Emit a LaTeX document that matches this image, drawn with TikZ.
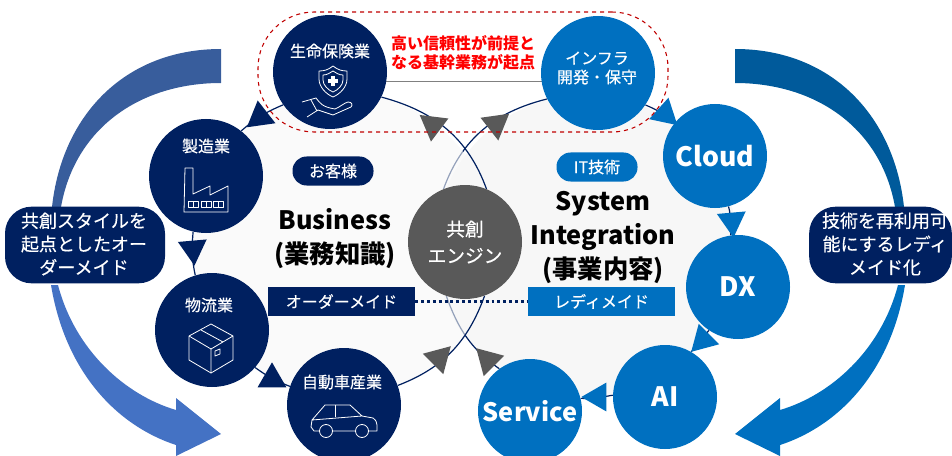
\documentclass[tikz,border=0pt]{standalone}
\usepackage{fontspec}
\setmainfont{Noto Sans CJK JP}[UprightFeatures={FakeBold=0.35},BoldFeatures={FakeBold=0}]
\usetikzlibrary{shapes.geometric,backgrounds}
\definecolor{navy}{HTML}{002060}
\definecolor{blue}{HTML}{0070C0}
\definecolor{engine}{HTML}{595959}
\definecolor{disc}{HTML}{F7F7F7}
\definecolor{lefttop}{HTML}{385D9C}
\definecolor{leftlow}{HTML}{4472C4}
\definecolor{righttop}{HTML}{005A9B}
\definecolor{dashred}{HTML}{C00000}
\tikzset{
  bignavy/.style={circle,fill=navy,text=white,minimum size=85.5pt,inner sep=0pt,font=\fontsize{12}{15}\selectfont},
  bigblue/.style={circle,fill=blue,text=white,minimum size=85.5pt,inner sep=0pt},
  smallblue/.style={circle,fill=blue,text=white,minimum size=78pt,inner sep=0pt,font=\bfseries\fontsize{20}{24}\selectfont},
  label/.style={text=white,inner sep=0pt,align=center,font=\fontsize{12}{14.25}\selectfont},
  heading/.style={align=center,inner sep=0pt,font=\bfseries\fontsize{19}{25.5}\selectfont},
  pill/.style={rounded corners=10.5pt,text=white,minimum width=60.75pt,minimum height=21.75pt,inner sep=0pt,font=\fontsize{12}{15}\selectfont},
  tag/.style={text=white,minimum width=110.25pt,minimum height=21.75pt,inner sep=0pt,font=\fontsize{12}{15}\selectfont},
  callout/.style={fill=navy,rounded corners=20pt,minimum height=57.5pt,inner sep=0pt},
  callouttext/.style={text=white,align=center,inner sep=0pt,font=\fontsize{13.5}{17.5}\selectfont},
  tipnavy/.style={regular polygon,regular polygon sides=3,fill=navy,minimum size=25pt,inner sep=0pt},
  tipblue/.style={regular polygon,regular polygon sides=3,fill=blue,minimum size=25pt,inner sep=0pt},
  tipgray/.style={regular polygon,regular polygon sides=3,fill=engine,minimum size=25pt,inner sep=0pt},
  ring/.style={draw=navy,line width=0.9pt},
  icon/.style={draw=white,line width=0.6pt,line join=round},
}
\begin{document}
\begin{tikzpicture}[x=0.75pt,y=-0.75pt]
\useasboundingbox (0,0) rectangle (952,456);

\fill[lefttop] (221,49) .. controls (125,49) and (62,115) .. (52,207) -- (61,207) .. controls (75,128) and (140,83) .. (221,83) -- cycle;
\fill[leftlow] (51,285) .. controls (65,370) and (115,425) .. (176,445) -- (176,456) -- (221,434) -- (176,398) -- (176,410) .. controls (125,395) and (75,350) .. (58,285) -- cycle;
\fill[righttop] (735,49) .. controls (831,49) and (894,115) .. (904,207) -- (895,207) .. controls (881,128) and (816,83) .. (735,83) -- cycle;
\fill[blue] (905,285) .. controls (891,370) and (841,425) .. (780,445) -- (780,456) -- (735,434) -- (780,398) -- (780,410) .. controls (831,395) and (881,350) .. (898,285) -- cycle;

\node (life) at (330,72) [bignavy] {};
\node (maker) at (206,176) [bignavy] {};
\node (logistics) at (212,330) [bignavy] {};
\node (auto) at (344,405) [bignavy] {};
\node (infra) at (598,73) [bigblue] {};
\node (cloud) at (715,156) [smallblue] {Cloud};
\node (dx) at (738,287) [smallblue] {DX};
\node (ai) at (665,397) [smallblue] {AI};
\node (service) at (530,411) [smallblue,font=\bfseries\fontsize{19}{22}\selectfont] {Service};
\node (engine) at (465,242) [circle,fill=engine,text=white,minimum size=85.5pt,inner sep=0pt,align=center,font=\fontsize{14}{20}\selectfont] {共創\\エンジン};

\node (lifetext) at (330,51) [label] {生命保険業};
\node (makertext) at (206,146) [label] {製造業};
\node (logisticstext) at (209,305) [label] {物流業};
\node (autotext) at (342,382) [label] {自動車産業};
\node (infratext) at (597,68) [label] {インフラ\\開発・保守};

\node (customer) at (333,171) [pill,fill=navy] {お客様};
\node (ittech) at (597,167) [pill,fill=blue] {IT技術};
\node (business) at (335,239) [heading] {Business\\(業務知識)};
\node (system) at (603,237) [heading] {System\\Integration\\(事業内容)};
\node (ordermade) at (341.5,301.5) [tag,fill=navy] {オーダーメイド};
\node (readymade) at (601.5,301.5) [tag,fill=blue] {レディメイド};
\draw[navy,line width=2.2pt,dash pattern=on 2.2pt off 2.2pt] (ordermade) -- (readymade);

\node (note) at (463,53) [text=red,align=center,inner sep=0pt,font=\bfseries\fontsize{12}{14}\selectfont] {高い信頼性が前提と\\なる基幹業務が起点};
\node (important) at (463,72) [draw=dashred,dashed,line width=0.8pt,rounded corners=42pt,minimum width=307.5pt,minimum height=90pt,inner sep=0pt] {};

\node (leftbox) at (85,245) [callout,minimum width=120pt] {};
\node (lefttext) at (84,244) [callouttext] {共創スタイルを\\起点としたオー\\ダーメイド};
\node (rightbox) at (880.5,245) [callout,minimum width=107pt] {};
\node (righttext) at (885,244) [callouttext] {技術を再利用可\\能にするレディ\\メイド化};

\begin{pgfonlayer}{background}
\node (rightdisc) at (586,246) [circle,fill=disc,minimum size=226.5pt,inner sep=0pt] {};
\draw[ring] (infra.207) to[out=194,in=70] (engine.112);
\draw[ring] (infra.-34) to[out=-22,in=144] (cloud.140);
\draw[ring] (cloud.-75) to[out=-75,in=94] (dx.98);
\draw[ring] (dx.-124) to[out=-125,in=45] (ai.60);
\draw[ring] (ai.178) to[out=190,in=-2] (service.14);
\draw[ring] (service.126) to[out=145,in=-70] (engine.-109);
\node (leftdisc) at (343,245) [circle,fill=disc,fill opacity=.6,minimum size=228pt,inner sep=0pt] {};
\draw[ring] (maker.52) to[out=41,in=203] (life.215);
\draw[ring] (life.-26) to[out=-15,in=110] (engine.68);
\draw[ring] (maker.-103) to[out=-95,in=102] (logistics.107);
\draw[ring] (logistics.-41) to[out=-36,in=159] (auto.161);
\draw[ring] (auto.20) to[out=21,in=-110] (engine.-70);
\node (tip1) at (260,117) [tipnavy,rotate=8] {};
\node (tip2) at (193,249) [tipnavy,rotate=185] {};
\node (tip3) at (272,379) [tipnavy] {};
\node (tip4) at (433,125) [tipgray,rotate=173] {};
\node (tip5) at (439,358) [tipgray,rotate=75] {};
\node (tip6) at (496,124) [tipgray,rotate=188] {};
\node (tip7) at (488,360) [tipgray,rotate=-75] {};
\node (tip8) at (665,114) [tipblue,rotate=-132] {};
\node (tip9) at (732,221) [tipblue,rotate=185] {};
\node (tip10) at (703,340) [tipblue,rotate=135] {};
\node (tip11) at (598,397) [tipblue,rotate=90] {};
\draw[draw=gray] ([yshift=-6.75pt]life.center) -- ([yshift=-6pt]infra.center);
\end{pgfonlayer}

\draw[icon] (333,66) .. controls (338,70) and (342,71) .. (347,71) -- (347,79) .. controls (347,87) and (340,94) .. (333,97) .. controls (326,94) and (319,87) .. (319,79) -- (319,71) .. controls (324,71) and (328,70) .. (333,66) -- cycle;
\draw[icon] (333,71) .. controls (336,73) and (339,75) .. (343,75) -- (343,80) .. controls (343,85) and (338,90) .. (333,92) .. controls (328,90) and (323,85) .. (323,80) -- (323,75) .. controls (327,75) and (330,73) .. (333,71) -- cycle;
\fill[white] (331,76) rectangle (335,86);
\fill[white] (328,79) rectangle (338,83);
\draw[icon] (302,102) -- (316,98) .. controls (320,103) and (322,107) .. (335,109) .. controls (340,107) and (344,103) .. (348,102) .. controls (352,102) and (353,105) .. (351,107) -- (333,115) -- (318,110) -- (307,117);
\draw[icon] (311,100) -- (317,111);

\draw[icon] (185,168) -- (193,168) -- (193,194) -- (210,186) -- (210,195) -- (228,186) -- (228,212) -- (184,212) -- cycle;
\draw[icon] (188,201) rectangle (198,207) (193,201) -- (193,207);
\draw[icon] (201,201) rectangle (211,207) (206,201) -- (206,207);
\draw[icon] (213,201) rectangle (223,207) (218,201) -- (218,207);

\draw[icon] (211,324) -- (233,336) -- (233,360) -- (211,373) -- (189,360) -- (189,336) -- cycle;
\draw[icon] (189,336) -- (211,349) -- (233,336) (211,349) -- (211,373);
\draw[icon] (201,330) -- (223,342);
\draw[icon] (215,351) -- (220,349) -- (220,354) -- (215,356) -- cycle;

\draw[icon] (312,420) -- (325,405) -- (350,405) -- (362,416) -- (373,418) .. controls (376,420) and (377,423) .. (377,425) -- (377,431) -- (369,431) (355,431) -- (333,431) (319,431) -- (314,431) -- (311,427) -- (312,420) -- (362,416);
\draw[icon] (335,405) -- (335,417);
\draw[icon] (326,431) circle[radius=6.5];
\draw[icon] (362,431) circle[radius=6.5];
\end{tikzpicture}
\end{document}
